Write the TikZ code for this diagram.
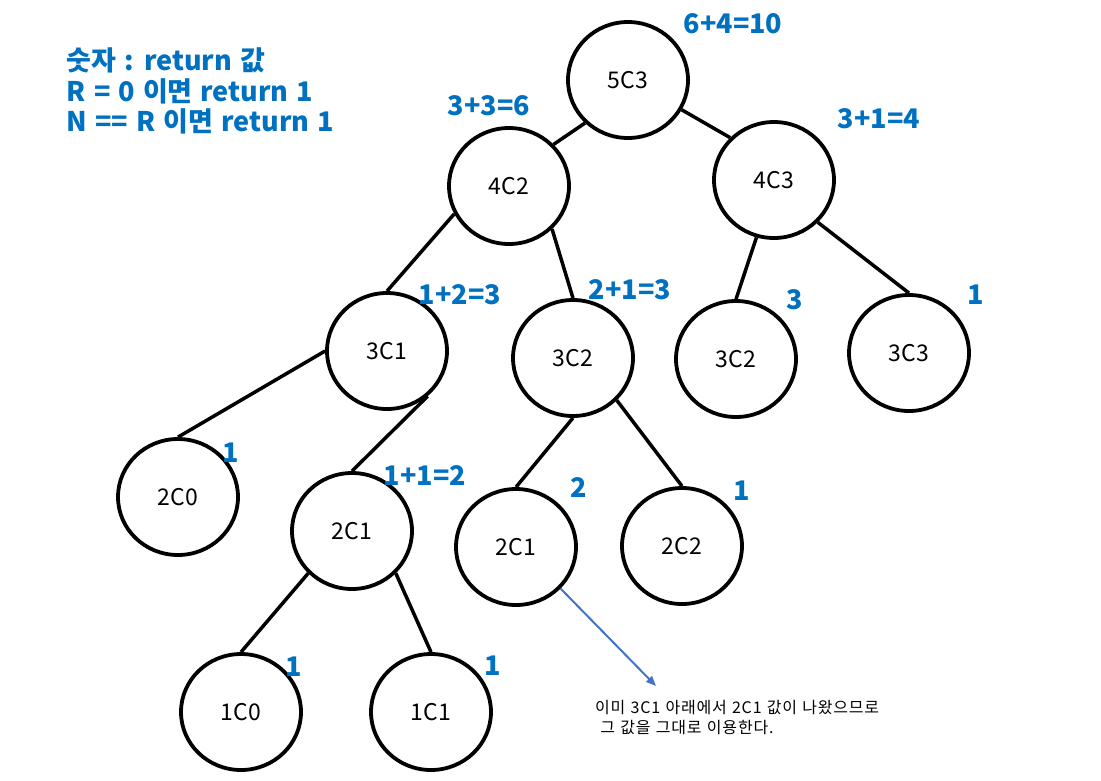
\documentclass[tikz,border=0pt]{standalone}
\usepackage{fontspec}
\setmainfont{Noto Sans CJK KR}
\newfontfamily\rulefont[WordSpace=1.3]{Noto Sans CJK KR}
\newfontfamily\notefont[LetterSpace=5, WordSpace=1.2]{Noto Sans CJK KR}
\usetikzlibrary{shapes.geometric,arrows.meta}
\definecolor{valblue}{HTML}{0070C0}
\definecolor{noteblue}{HTML}{4472C4}
\begin{document}
\begin{tikzpicture}[x=1pt, y=-1pt,
        comb/.style={draw, ellipse, line width=3.8pt, minimum width=120pt, minimum height=116pt, inner sep=0pt, font=\fontsize{23}{26}\selectfont},
        val/.style={text=valblue, inner sep=0pt, font=\bfseries\fontsize{27}{31}\selectfont},
        rule/.style={val, anchor=base west, font=\rulefont\bfseries\fontsize{27}{31}\selectfont},
        link/.style={line width=3.5pt}]%% start picture
    \useasboundingbox (0, 0) rectangle (1101, 780);


        \node[rule] (rule1) at (66.7, 70){숫자 : return 값};
        \node[rule] (rule2) at (66.7, 101.7){R = 0 이면 return 1};
        \node[rule] (rule3) at (66.7, 131.7){N == R 이면 return 1};


        \node[comb] (n53) at (628, 80){5C3};
            \node[val] (v53) at (733, 24){6+4=10};


        \node[comb] (n42) at (509, 186){4C2};
            \node[val] (v42) at (489, 106){3+3=6};
        \node[comb] (n43) at (774, 180){4C3};
            \node[val] (v43) at (879, 119){3+1=4};
        \draw[link] (n53.225) to (n42.43);
        \draw[link] (n53.331) to (n43.136);


        \node[comb] (n31) at (387, 351){3C1};
            \node[val] (v31) at (460, 295){1+2=3};
        \node[comb] (n32) at (573, 358){3C2};
            \node[val] (v32) at (630, 290){2+1=3};
        \node[comb] (n32b) at (736, 359){3C2};
            \node[val] (v32b) at (795, 300){3};
        \node[comb] (n33) at (909, 353){3C3};
            \node[val] (v33) at (975.5, 295){1};
        \draw[link] (n42.207) to (n31.north);
        \draw[link] (n42.315) to (n32.north);
        \draw[link] (n43.253) to (n32b.north);
        \draw[link] (n43.316) to (n33.north);


        \node[comb] (n20) at (178, 497){2C0};
            \node[val] (v20) at (231, 452.6){1};
        \node[comb] (n21) at (352, 531){2C1};
            \node[val] (v21) at (425, 476){1+1=2};
        \node[comb] (n21b) at (516, 547){2C1};
            \node[val] (v21b) at (579, 488){2};
        \node[comb] (n22) at (682, 546){2C2};
            \node[val] (v22) at (742, 491){1};
        \draw[link] (n31.west) to (n20.north);
        \draw[link] (n31.312) to (n21.north);
        \draw[link] (n32.south) to (n21b.north);
        \draw[link] (n32.316) to (n22.north);


        \node[comb] (n10) at (241, 712){1C0};
            \node[val] (v10) at (294, 667){1};
        \node[comb] (n11) at (431, 712){1C1};
            \node[val] (v11) at (492.5, 666){1};
        \draw[link] (n21.224) to (n10.north);
        \draw[link] (n21.316) to (n11.north);


        \coordinate (tip) at (656, 686);
        \draw[noteblue, line width=2pt, -{Triangle[length=10pt, width=8pt]}] (n21b.317) to (tip);
        \node[anchor=base west, inner sep=0pt, align=left, font=\notefont\fontsize{16}{19.5}\selectfont] (note) at (595, 733){이미 3C1 아래에서 2C1 값이 나왔으므로\\ \ 그 값을 그대로 이용한다.};

\end{tikzpicture}
\end{document}
